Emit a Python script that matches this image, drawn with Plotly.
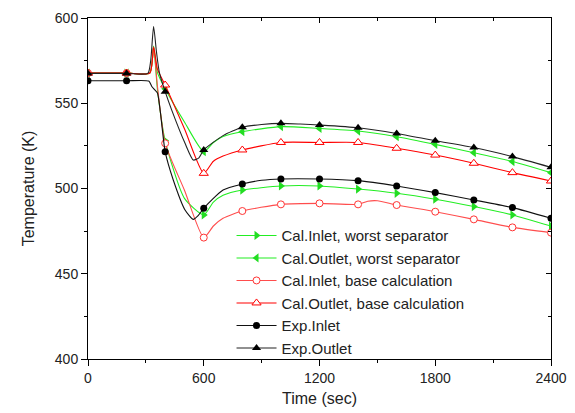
import plotly.graph_objects as go

# ---------------- data ----------------
t_cal_ow = [0, 200, 320, 340, 360, 400, 500, 600, 650, 700, 800, 1000, 1200, 1400, 1600, 1800, 2000, 2200, 2400]
T_cal_ow = [567.7, 567.7, 567.7, 583.6, 568, 558.5, 539, 521.6, 527, 530.5, 533.3, 536.3, 535.2, 533.7, 530.4, 525.9, 521.0, 515.8, 509.3]

t_cal_iw = [0, 200, 320, 340, 360, 400, 500, 600, 650, 700, 800, 1000, 1200, 1400, 1600, 1800, 2000, 2200, 2400]
T_cal_iw = [567.7, 567.7, 567.7, 583.0, 558, 528, 494.2, 484.5, 492, 496, 499.1, 501.5, 501.5, 499.7, 497.2, 493.7, 489.4, 484.5, 478.0]

t_cal_ob = [0, 200, 320, 340, 360, 400, 500, 600, 650, 700, 800, 1000, 1200, 1400, 1600, 1800, 2000, 2200, 2400]
T_cal_ob = [567.7, 567.7, 567.7, 583.0, 570, 560.7, 535, 508.9, 516, 519, 522.6, 527, 527, 527, 523.6, 519.6, 514.8, 509.3, 504.4]

t_cal_ib = [0, 200, 320, 340, 360, 400, 500, 600, 650, 700, 800, 1000, 1200, 1400, 1450, 1500, 1600, 1800, 2000, 2200, 2400]
T_cal_ib = [567.7, 567.7, 567.7, 583.0, 560, 526.5, 499, 471.2, 478, 482.5, 486.8, 490.7, 491.3, 490.7, 492.5, 492.8, 490.3, 486.4, 481.9, 477.2, 474.1]

t_exp_in = [0, 200, 315, 330, 345, 360, 375, 400, 442, 503, 546, 570, 600, 700, 800, 900, 1000, 1200, 1400, 1600, 1800, 2000, 2200, 2400]
T_exp_in = [563.2, 563.2, 563.0, 560, 558, 556, 545, 521.6, 505, 487.4, 481.9, 484, 488.4, 499.1, 502.6, 504.8, 505.6, 505.6, 504.6, 501.5, 497.6, 493.3, 488.8, 482.5]

t_exp_out = [0, 200, 310, 325, 340, 355, 370, 400, 434, 503, 546, 575, 600, 700, 800, 900, 1000, 1100, 1200, 1400, 1600, 1800, 2000, 2200, 2400]
T_exp_out = [567.5, 567.5, 567.5, 575, 595, 580, 568, 556.8, 546, 526.5, 516.7, 518, 522.6, 531, 535.9, 537.5, 538.2, 537.8, 537.2, 535.6, 532.3, 528.0, 524.0, 518.7, 512.4]

series = [
    ("Cal.Inlet, worst separator", t_cal_iw, T_cal_iw, "#22ee22", dict(symbol="triangle-right", size=8, color="#22dd22", line=dict(width=0))),
    ("Cal.Outlet, worst separator", t_cal_ow, T_cal_ow, "#22ee22", dict(symbol="triangle-left", size=8, color="#22dd22", line=dict(width=0))),
    ("Cal.Inlet, base calculation", t_cal_ib, T_cal_ib, "#ff4d4d", dict(symbol="circle", size=7, color="white", line=dict(width=1, color="#ff3333"))),
    ("Cal.Outlet, base calculation", t_cal_ob, T_cal_ob, "#ff0000", dict(symbol="triangle-up", size=8, color="white", line=dict(width=1, color="#ff0000"))),
    ("Exp.Inlet", t_exp_in, T_exp_in, "#111111", dict(symbol="circle", size=7, color="black", line=dict(width=0))),
    ("Exp.Outlet", t_exp_out, T_exp_out, "#222222", dict(symbol="triangle-up", size=8, color="black", line=dict(width=0))),
]

fig = go.Figure()
for i, (name, tx, ty, lc, mk) in enumerate(series):
    fig.add_trace(go.Scatter(x=tx, y=ty, mode="lines", line=dict(color=lc, width=1.1, shape="spline", smoothing=0.6),
                             showlegend=False, hoverinfo="skip"))
    mx = [a for a in tx if a % 200 == 0]
    my = [b for a, b in zip(tx, ty) if a % 200 == 0]
    fig.add_trace(go.Scatter(x=mx, y=my, mode="markers", marker=mk, showlegend=False))
    fig.add_trace(go.Scatter(x=[None], y=[None], mode="lines+markers", name=name,
                             line=dict(color=lc, width=1.1), marker=mk, legendrank=i + 1))

# invisible trace for the mirrored axes
fig.add_trace(go.Scatter(x=[0], y=[400], xaxis="x2", yaxis="y2", mode="markers",
                         marker=dict(opacity=0), showlegend=False, hoverinfo="skip"))

tickfont = dict(family="Liberation Sans, Arial", size=14, color="#222")
fig.update_layout(
    width=575, height=413,
    margin=dict(l=88, r=24, t=18, b=54),
    paper_bgcolor="white", plot_bgcolor="white",
    font=dict(family="Liberation Sans, Arial", color="#222"),
    xaxis=dict(range=[0, 2400], tickvals=[0, 600, 1200, 1800, 2400], ticks="outside", ticklen=6,
               tickcolor="black", showline=True, linecolor="black", linewidth=1, showgrid=False,
               zeroline=False, tickfont=tickfont, automargin=False,
               minor=dict(tickvals=[300, 900, 1500, 2100], ticks="outside", ticklen=3, tickcolor="black"),
               title=dict(text="Time (sec)", font=dict(size=16, color="#222"), standoff=8)),
    yaxis=dict(range=[400, 600], tickvals=[400, 450, 500, 550, 600], ticks="outside", ticklen=6,
               tickcolor="black", showline=True, linecolor="black", linewidth=1, showgrid=False,
               zeroline=False, tickfont=tickfont, automargin=False,
               minor=dict(tickvals=[425, 475, 525, 575], ticks="outside", ticklen=3, tickcolor="black"),
               title=dict(text="Temperature (K)", font=dict(size=16, color="#222"), standoff=16)),
    xaxis2=dict(overlaying="x", side="top", range=[0, 2400], tickvals=[0, 600, 1200, 1800, 2400],
                ticks="inside", ticklen=5, tickcolor="black", showline=True, linecolor="black",
                showticklabels=False, showgrid=False, zeroline=False, automargin=False,
                minor=dict(tickvals=[300, 900, 1500, 2100], ticks="inside", ticklen=3, tickcolor="black")),
    yaxis2=dict(overlaying="y", side="right", range=[400, 600], tickvals=[400, 450, 500, 550, 600],
                ticks="inside", ticklen=5, tickcolor="black", showline=True, linecolor="black",
                showticklabels=False, showgrid=False, zeroline=False, automargin=False,
                minor=dict(tickvals=[425, 475, 525, 575], ticks="inside", ticklen=3, tickcolor="black")),
    legend=dict(x=0.31, y=0.41, xanchor="left", yanchor="top", bgcolor="rgba(0,0,0,0)",
                font=dict(size=15, color="#222"), tracegroupgap=0, itemwidth=40),
    showlegend=True,
)

fig.write_html("out.html")
